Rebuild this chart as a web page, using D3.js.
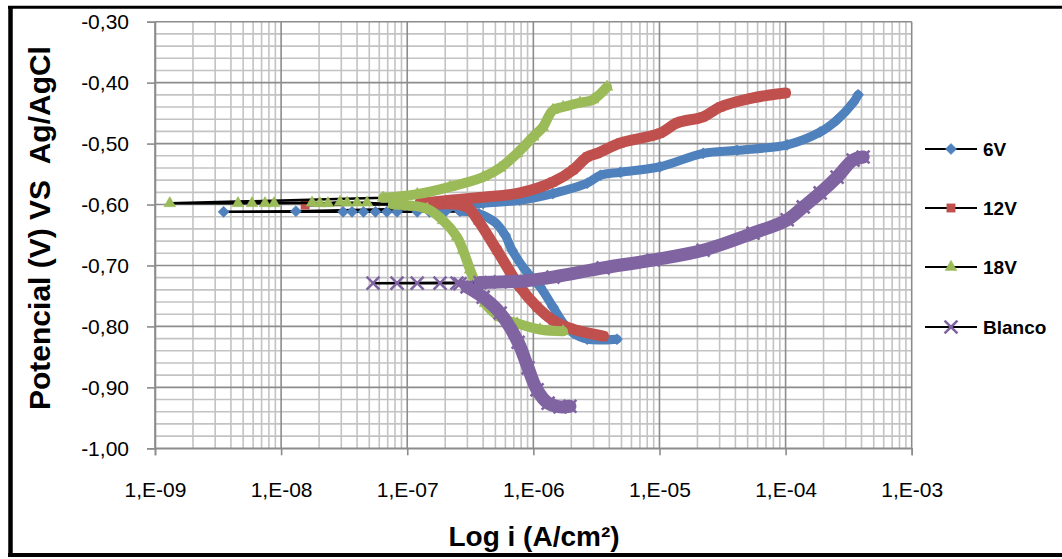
<!DOCTYPE html>
<html>
<head>
<meta charset="utf-8">
<script src="https://cdn.jsdelivr.net/npm/d3@7"></script>
<style>
  html, body { margin: 0; padding: 0; background: #fff; }
  svg { display: block; font-family: "Liberation Sans", Arial, sans-serif; }
</style>
</head>
<body>
<svg id="chart" width="1062" height="559"></svg>
<script>
// Tafel polarization curves: current density (A/cm²) vs potential (V vs Ag/AgCl)

const seriesNames = ["6V", "12V", "18V", "Blanco"];
const seriesColors = ["#4F81BD", "#C0504D", "#9BBB59", "#8064A2"];

// each curve: cathodic branch, sparse points around Ecorr, anodic branch  ([i, E])
const cathodic6V = [[4.6e-6,-0.821],[2.67e-6,-0.821],[2.07e-6,-0.811],[1.72e-6,-0.794],[1.43e-6,-0.768],[1.13e-6,-0.735],[8.59e-7,-0.707],[6.78e-7,-0.675],[5.97e-7,-0.650],[4.96e-7,-0.629],[3.7e-7,-0.615],[2.62e-7,-0.611]];
const ecorr6V = [[2.0e-7,-0.612],[1.5e-7,-0.612],[1.2e-7,-0.612],[8.3e-8,-0.612],[6.9e-8,-0.612],[5.6e-8,-0.612],[4.5e-8,-0.612],[3.65e-8,-0.612],[3.1e-8,-0.612],[3.5e-9,-0.612],[1.31e-8,-0.611]];
const anodic6V = [[1.52e-7,-0.606],[2.18e-7,-0.604],[4.0e-7,-0.598],[7.8e-7,-0.593],[1.43e-6,-0.582],[2.67e-6,-0.565],[3.4e-6,-0.552],[4.9e-6,-0.547],[1.01e-5,-0.538],[2.22e-5,-0.516],[4.12e-5,-0.511],[1.03e-4,-0.502],[1.88e-4,-0.481],[2.56e-4,-0.461],[3.43e-4,-0.433],[3.76e-4,-0.420]];

const cathodic12V = [[3.6e-6,-0.816],[1.95e-6,-0.803],[1.43e-6,-0.790],[1.07e-6,-0.768],[7.8e-7,-0.735],[5.15e-7,-0.675],[3.64e-7,-0.626],[2.98e-7,-0.604],[1.82e-7,-0.599]];
const ecorr12V = [[1.55e-8,-0.601]];
const anodic12V = [[1.26e-7,-0.598],[2.18e-7,-0.593],[4.0e-7,-0.588],[7.8e-7,-0.581],[1.43e-6,-0.563],[2.07e-6,-0.543],[2.67e-6,-0.522],[3.2e-6,-0.516],[4.9e-6,-0.499],[1.01e-5,-0.483],[1.38e-5,-0.466],[2.22e-5,-0.456],[3.03e-5,-0.440],[5.52e-5,-0.425],[1.0e-4,-0.417]];

const cathodic18V = [[1.72e-6,-0.808],[1.13e-6,-0.805],[7.43e-7,-0.795],[5.45e-7,-0.785],[4.14e-7,-0.762],[3.57e-7,-0.735],[3.15e-7,-0.707],[2.77e-7,-0.675],[2.48e-7,-0.653],[1.92e-7,-0.626],[1.44e-7,-0.607],[7.7e-8,-0.600]];
const ecorr18V = [[4.8e-8,-0.597],[4.0e-8,-0.597],[3.34e-8,-0.597],[2.93e-8,-0.596],[2.35e-8,-0.598],[2.03e-8,-0.598],[1.76e-8,-0.597],[8.8e-9,-0.598],[7.45e-9,-0.598],[5.87e-9,-0.598],[4.55e-9,-0.598],[1.31e-9,-0.598]];
const anodic18V = [[6.43e-8,-0.589],[1.2e-7,-0.583],[2.18e-7,-0.571],[4.0e-7,-0.555],[5.45e-7,-0.540],[7.43e-7,-0.516],[9.95e-7,-0.489],[1.19e-6,-0.473],[1.43e-6,-0.445],[1.72e-6,-0.440],[2.34e-6,-0.433],[2.97e-6,-0.428],[3.84e-6,-0.407]];

const cathodicBlanco = [[1.95e-6,-0.931],[1.63e-6,-0.932],[1.31e-6,-0.926],[1.07e-6,-0.904],[9.08e-7,-0.868],[7.57e-7,-0.826],[5.45e-7,-0.778],[4.0e-7,-0.752],[2.98e-7,-0.735]];
const ecorrBlanco = [[2.62e-7,-0.730],[2.48e-7,-0.729],[1.82e-7,-0.729],[1.2e-7,-0.729],[8.3e-8,-0.729],[5.36e-8,-0.729]];
const anodicBlanco = [[3.78e-7,-0.728],[5.45e-7,-0.727],[7.83e-7,-0.726],[1.43e-6,-0.719],[3.57e-6,-0.704],[8.9e-6,-0.691],[2.22e-5,-0.675],[5.52e-5,-0.647],[1.03e-4,-0.625],[1.38e-4,-0.604],[1.88e-4,-0.581],[2.56e-4,-0.555],[3.43e-4,-0.527],[4.12e-4,-0.522]];

const xTickValues = [1e-9, 1e-8, 1e-7, 1e-6, 1e-5, 1e-4, 1e-3];
const xTickLabels = ["1,E-09", "1,E-08", "1,E-07", "1,E-06", "1,E-05", "1,E-04", "1,E-03"];
const yTickValues = [-0.30, -0.40, -0.50, -0.60, -0.70, -0.80, -0.90, -1.00];
const yTickLabels = ["-0,30", "-0,40", "-0,50", "-0,60", "-0,70", "-0,80", "-0,90", "-1,00"];

const series = [
  { name: seriesNames[0], color: seriesColors[0], cathodic: cathodic6V, ecorr: ecorr6V, anodic: anodic6V, marker: "diamond", band: 9 },
  { name: seriesNames[1], color: seriesColors[1], cathodic: cathodic12V, ecorr: ecorr12V, anodic: anodic12V, marker: "square", band: 11 },
  { name: seriesNames[2], color: seriesColors[2], cathodic: cathodic18V, ecorr: ecorr18V, anodic: anodic18V, marker: "triangle", band: 10 },
  { name: seriesNames[3], color: seriesColors[3], cathodic: cathodicBlanco, ecorr: ecorrBlanco, anodic: anodicBlanco, marker: "x", band: 13 }
];

const svg = d3.select("#chart");
const x = d3.scaleLog().domain([1e-9, 1e-3]).range([155, 911.7]);
const y = d3.scaleLinear().domain([-1.0, -0.3]).range([448.3, 21.7]);

// chart frame
svg.append("line").attr("x1", 10.5).attr("x2", 10.5).attr("y1", 6).attr("y2", 557).attr("stroke", "#000").attr("stroke-width", 4.5);
svg.append("line").attr("x1", 8).attr("x2", 1062).attr("y1", 7.2).attr("y2", 7.2).attr("stroke", "#000").attr("stroke-width", 3);
svg.append("line").attr("x1", 8).attr("x2", 1062).attr("y1", 555).attr("y2", 555).attr("stroke", "#000").attr("stroke-width", 4);

// grid
const grid = svg.append("g");
const minorX = [];
for (let e = -9; e < -3; e++) for (let m = 2; m <= 9; m++) minorX.push(m * Math.pow(10, e));
const minorY = d3.range(0, 36).map(k => -1.0 + k * 0.02).filter(v => Math.abs(Math.round(v * 10) - v * 10) > 1e-6);

grid.selectAll(".mx").data(minorX).join("line")
  .attr("x1", d => x(d)).attr("x2", d => x(d)).attr("y1", y(-0.3)).attr("y2", y(-1.0))
  .attr("stroke", "#c3c3c3").attr("stroke-width", 1.6);
grid.selectAll(".my").data(minorY).join("line")
  .attr("x1", x(1e-9)).attr("x2", x(1e-3)).attr("y1", d => y(d)).attr("y2", d => y(d))
  .attr("stroke", "#c3c3c3").attr("stroke-width", 1.6);
grid.selectAll(".Mx").data(xTickValues).join("line")
  .attr("x1", d => x(d)).attr("x2", d => x(d)).attr("y1", y(-0.3)).attr("y2", y(-1.0))
  .attr("stroke", "#8c8c8c").attr("stroke-width", 1.6);
grid.selectAll(".My").data(yTickValues).join("line")
  .attr("x1", x(1e-9)).attr("x2", x(1e-3)).attr("y1", d => y(d)).attr("y2", d => y(d))
  .attr("stroke", "#8c8c8c").attr("stroke-width", 1.6);

// axes
const yAxis = svg.append("g").attr("transform", `translate(${x(1e-9)},0)`)
  .call(d3.axisLeft(y).tickValues(yTickValues).tickFormat((d, i) => yTickLabels[i]).tickSize(8).tickPadding(18));
const xAxis = svg.append("g").attr("transform", `translate(0,${y(-1.0)})`)
  .call(d3.axisBottom(x).tickValues(xTickValues).tickFormat((d, i) => xTickLabels[i]).tickSize(7).tickPadding(27));
[yAxis, xAxis].forEach(a => {
  a.select(".domain").attr("stroke", "#8c8c8c").attr("stroke-width", 1.6);
  a.selectAll(".tick line").attr("stroke", "#8c8c8c").attr("stroke-width", 1.6);
  a.selectAll(".tick text").attr("fill", "#000").style("font-size", "21px")
    .style("font-family", "'Liberation Sans', Arial, sans-serif");
});

// markers
function markerPath(type) {
  if (type === "diamond") return d3.symbol().type(d3.symbolSquare).size(62)();
  if (type === "square") return d3.symbol().type(d3.symbolSquare).size(70)();
  if (type === "triangle") return d3.symbol().type(d3.symbolTriangle).size(60)();
  return d3.symbol().type(d3.symbolTimes).size(110)();
}
function drawMarkers(g, pts, s) {
  g.selectAll(null).data(pts).join("path")
    .attr("d", markerPath(s.marker))
    .attr("transform", d => `translate(${x(d[0])},${y(d[1])})` + (s.marker === "diamond" ? " rotate(45)" : ""))
    .attr("fill", s.marker === "x" ? "none" : s.color)
    .attr("stroke", s.color)
    .attr("stroke-width", s.marker === "x" ? 2.6 : 0.5);
}

const lineGen = d3.line().x(d => x(d[0])).y(d => y(d[1]));
const bandGen = d3.line().x(d => x(d[0])).y(d => y(d[1])).curve(d3.curveCatmullRom.alpha(0.5));

series.forEach(s => {
  const g = svg.append("g");
  const all = s.cathodic.concat(s.ecorr, s.anodic);
  g.append("path").attr("d", lineGen(all)).attr("fill", "none").attr("stroke", "#000").attr("stroke-width", 2.5);
  [s.cathodic, s.anodic].forEach(branch => {
    g.append("path").attr("d", bandGen(branch)).attr("fill", "none")
      .attr("stroke", s.color).attr("stroke-width", s.band)
      .attr("stroke-linecap", "round").attr("stroke-linejoin", "round");
  });
  drawMarkers(g, all, s);
});

// axis titles
svg.append("text").attr("transform", "translate(50,228) rotate(-90)")
  .attr("text-anchor", "middle").style("font-size", "30px").style("font-weight", "bold")
  .style("white-space", "pre").text("Potencial (V) VS  Ag/AgCl");
svg.append("text").attr("x", 534).attr("y", 546)
  .attr("text-anchor", "middle").style("font-size", "28px").style("font-weight", "bold")
  .text("Log i (A/cm²)");

// legend
const legendY = [149, 208, 267, 327];
const legend = svg.append("g");
series.forEach((s, i) => {
  const ly = legendY[i];
  legend.append("line").attr("x1", 925).attr("x2", 977).attr("y1", ly).attr("y2", ly)
    .attr("stroke", "#000").attr("stroke-width", 2);
  drawMarkers(legend, [[x.invert(951), y.invert(ly)]], s);
  legend.append("text").attr("x", 983).attr("y", ly).attr("dy", "0.36em")
    .style("font-size", "19px").style("font-weight", "bold").text(s.name);
});
</script>
</body>
</html>
